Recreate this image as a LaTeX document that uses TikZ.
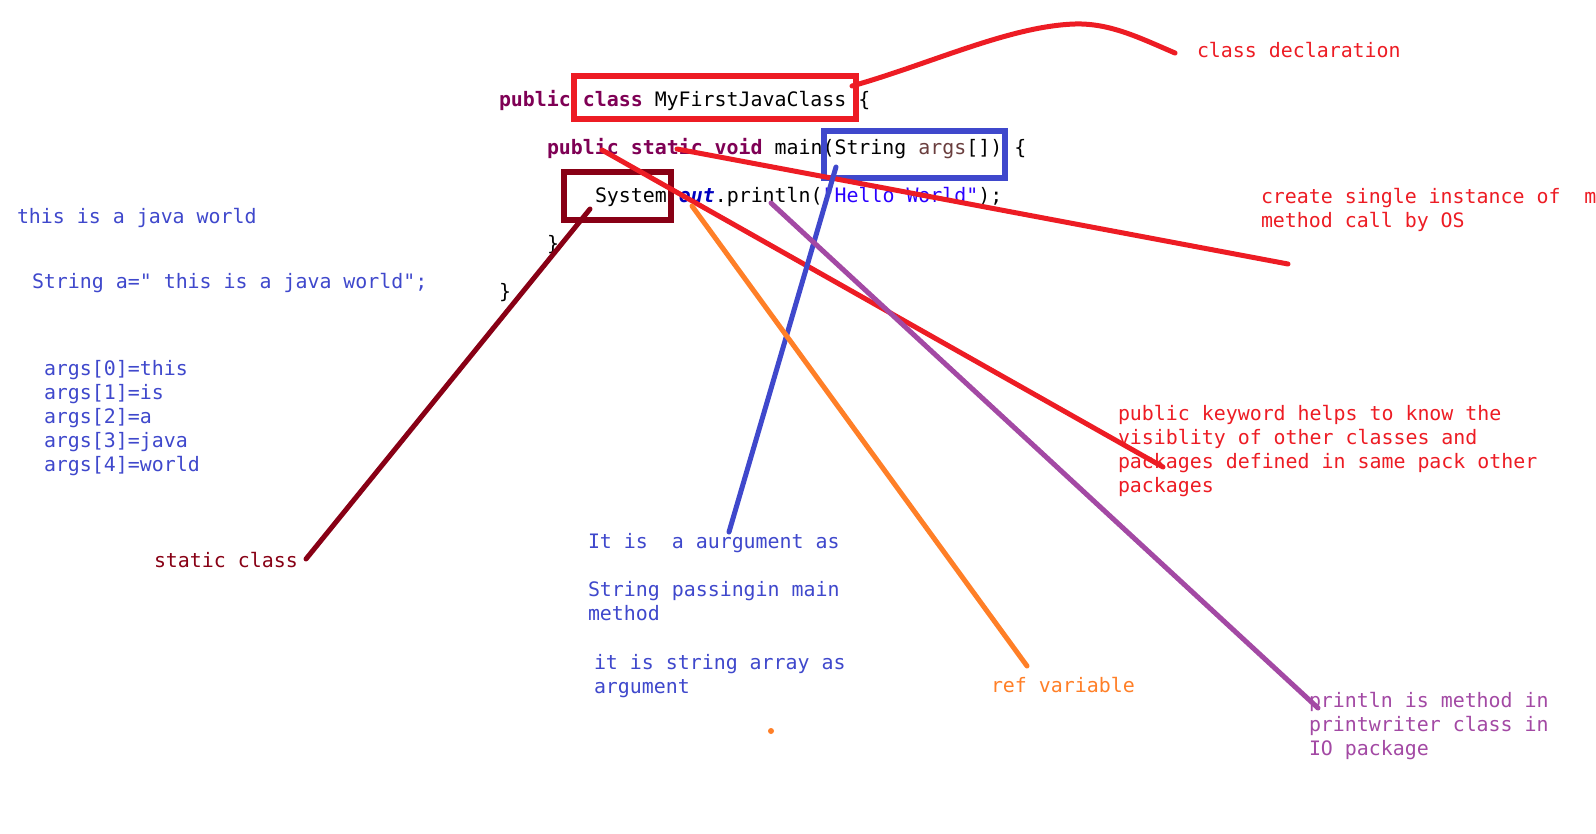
\documentclass[tikz,border=0pt]{standalone}
\usepackage{fontspec}
\newfontfamily\monofam{DejaVu Sans Mono}[Ligatures=TeXOff]
\definecolor{pred}{HTML}{ED1C24}
\definecolor{pblue}{HTML}{3F48CC}
\definecolor{porange}{HTML}{FF7F27}
\definecolor{ppurple}{HTML}{A349A4}
\definecolor{pbrown}{HTML}{880015}
\definecolor{kwc}{HTML}{7F0055}
\definecolor{varc}{HTML}{6A3E3E}
\definecolor{outc}{HTML}{0000C0}
\definecolor{strc}{HTML}{2A00FF}
\newcommand\jkw[1]{\textcolor{kwc}{\bfseries #1}}
\begin{document}
\begin{tikzpicture}[x=1pt,y=-1pt,
  txt/.style={anchor=base west, inner sep=0pt, outer sep=0pt,
    font=\monofam\fontsize{19.9}{24}\selectfont\frenchspacing},
  wire/.style={line width=5pt, line cap=round, line join=round},
  hibox/.style={draw, line width=5.5pt, inner sep=0pt, fill=none}]
\useasboundingbox (0,0) rectangle (1596,833);
\clip (0,0) rectangle (1596,833);
\fill[white] (0,0) rectangle (1596,833);

% --- Java source ---
\node[txt] (code1) at (499,106) {\jkw{public} \jkw{class} MyFirstJavaClass \{};
\node[txt] (code2) at (547,154) {\jkw{public} \jkw{static} \jkw{void} main(String \textcolor{varc}{args}[]) \{};
\node[txt] (code3) at (595,202) {System.\textcolor{outc}{\bfseries\itshape out}.println(\textcolor{strc}{"Hello World"});};
\node[txt] (code4) at (547,250) {\}};
\node[txt] (code5) at (499,298) {\}};

% --- notes on the left ---
\node[txt, pblue] (sent) at (17,223) {this is a java world};
\node[txt, pblue] (strdecl) at (32,288) {String a=" this is a java world";};
\node[txt, pblue] (arg0) at (44,375) {args[0]=this};
\node[txt, pblue] (arg1) at (44,399) {args[1]=is};
\node[txt, pblue] (arg2) at (44,423) {args[2]=a};
\node[txt, pblue] (arg3) at (44,447) {args[3]=java};
\node[txt, pblue] (arg4) at (44,471) {args[4]=world};
\node[txt, pbrown] (lblStatic) at (154,567) {static class};

% --- notes on the right ---
\node[txt, pred] (lblClass) at (1197,57) {class declaration};
\node[txt, pred] (lblMainA) at (1261,203) {create single instance of~~m};
\node[txt, pred] (lblMainB) at (1261,227) {method call by OS};
\node[txt, pred] (lblPubA) at (1118,420) {public keyword helps to know the};
\node[txt, pred] (lblPubB) at (1118,444) {visiblity of other classes and};
\node[txt, pred] (lblPubC) at (1118,468) {packages defined in same pack other};
\node[txt, pred] (lblPubD) at (1118,492) {packages};

% --- notes at the bottom ---
\node[txt, pblue] (lblArgA) at (588,548) {It is~~a aurgument as};
\node[txt, pblue] (lblArgB) at (588,596) {String passingin main};
\node[txt, pblue] (lblArgC) at (588,620) {method};
\node[txt, pblue] (lblArrA) at (594,669) {it is string array as};
\node[txt, pblue] (lblArrB) at (594,693) {argument};
\node[txt, porange] (lblRef) at (991,692) {ref variable};
\node[txt, ppurple] (lblPrA) at (1309,707) {println is method in};
\node[txt, ppurple] (lblPrB) at (1309,731) {printwriter class in};
\node[txt, ppurple] (lblPrC) at (1309,755) {IO package};

% --- highlight boxes ---
\node[hibox, draw=pred, minimum width=282pt, minimum height=43pt] (boxClass) at (715,97.5) {};
\node[hibox, draw=pblue, minimum width=181pt, minimum height=47pt] (boxArgs) at (914.5,154.5) {};
\node[hibox, draw=pbrown, minimum width=107pt, minimum height=48pt] (boxSys) at (617.5,196) {};

% --- connector end points ---
\coordinate (cdStart) at (852,86);
\coordinate (cdTop) at (1075,24);
\coordinate (cdEnd) at (1175,53);
\coordinate (stStart) at (677,149);
\coordinate (stEnd) at (1288,264);
\coordinate (pbStart) at (602,150);
\coordinate (pbEnd) at (1163,467);
\coordinate (syStart) at (590,209);
\coordinate (syEnd) at (306,559);
\coordinate (agStart) at (836,167);
\coordinate (agEnd) at (729,532);
\coordinate (otStart) at (692,206);
\coordinate (otEnd) at (1027,666);
\coordinate (plStart) at (771,203);
\coordinate (plEnd) at (1318,708);
\coordinate (dot) at (771,731);

% --- connectors ---
\draw[wire, pred] (cdStart) .. controls (930,64) and (1010,26) .. (cdTop)
  .. controls (1110,23) and (1140,38) .. (cdEnd);
\draw[wire, pred] (stStart) -- (stEnd);
\draw[wire, pred] (pbStart) -- (pbEnd);
\draw[wire, pbrown] (syStart) -- (syEnd);
\draw[wire, pblue] (agStart) -- (agEnd);
\draw[wire, porange] (otStart) -- (otEnd);
\draw[wire, ppurple] (plStart) -- (plEnd);
\fill[porange] (dot) circle (3pt);
\end{tikzpicture}
\end{document}
